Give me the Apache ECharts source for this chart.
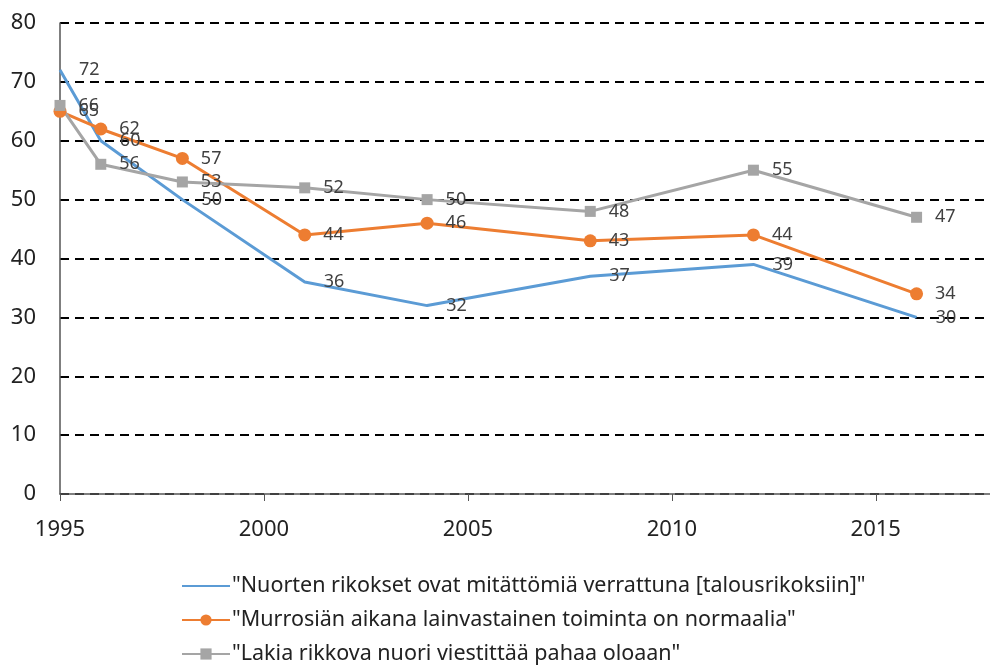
<!DOCTYPE html>
<html>
<head>
<meta charset="utf-8">
<script src="https://cdn.jsdelivr.net/npm/echarts@6/dist/echarts.min.js"></script>
<style>
  html, body { margin: 0; padding: 0; background: #fff; }
  #main { width: 990px; height: 666px; }
</style>
</head>
<body>
<div id="main"></div>
<script>
// survey years
var years = [1995, 1996, 1998, 2001, 2004, 2008, 2012, 2016];

var nuortenRikokset = [72, 60, 50, 36, 32, 37, 39, 30];
var murrosika = [65, 62, 57, 44, 46, 43, 44, 34];
var lakiaRikkova = [66, 56, 53, 52, 50, 48, 55, 47];

var seriesNames = [
  '"Nuorten rikokset ovat mitättömiä verrattuna [talousrikoksiin]"',
  '"Murrosiän aikana lainvastainen toiminta on normaalia"',
  '"Lakia rikkova nuori viestittää pahaa oloaan"'
];

function pairs(vals) {
  return years.map(function (y, i) { return [y, vals[i]]; });
}

var font = 'Noto Sans';
function labelStyle(dist) {
  return {
    show: true,
    position: 'right',
    distance: dist,
    color: '#404040',
    fontSize: 18,
    fontFamily: font
  };
}

var chart = echarts.init(document.getElementById('main'));
chart.setOption({
  animation: false,
  grid: { left: 60, right: 0, top: 23, bottom: 172 },
  legend: {
    orient: 'vertical',
    left: 176,
    top: 570,
    height: 140,
    itemWidth: 48,
    itemHeight: 14,
    itemGap: 12,
    textStyle: { fontSize: 21.5, color: '#222', fontFamily: font, padding: [0, 0, 0, -3] },
    data: [
      { name: seriesNames[0], itemStyle: { opacity: 0 } },
      seriesNames[1],
      seriesNames[2]
    ]
  },
  xAxis: {
    type: 'value',
    min: 1995,
    max: 2017.8,
    interval: 5,
    axisLine: { lineStyle: { color: '#555', width: 1.5 } },
    axisTick: { show: true, length: 7, lineStyle: { color: '#555' } },
    splitLine: { show: false },
    axisLabel: {
      fontSize: 22, color: '#222', fontFamily: font, margin: 25,
      showMaxLabel: false,
      formatter: function (v) { return v % 5 === 0 ? String(v) : ''; }
    }
  },
  yAxis: {
    type: 'value',
    min: 0,
    max: 80,
    interval: 10,
    axisLine: { show: true, lineStyle: { color: '#555', width: 1.5 } },
    axisTick: { show: false },
    splitLine: { lineStyle: { color: '#000', type: [9, 6], width: 2 } },
    axisLabel: { fontSize: 22, color: '#222', fontFamily: font, margin: 24 }
  },
  series: [
    {
      name: seriesNames[0],
      type: 'line',
      data: pairs(nuortenRikokset),
      symbol: 'circle',
      symbolSize: 0.1,
      lineStyle: { color: '#5B9BD5', width: 3 },
      itemStyle: { color: '#5B9BD5' },
      label: labelStyle(19)
    },
    {
      name: seriesNames[1],
      type: 'line',
      data: pairs(murrosika),
      symbol: 'circle',
      symbolSize: 13,
      lineStyle: { color: '#ED7D31', width: 3 },
      itemStyle: { color: '#ED7D31' },
      label: labelStyle(12)
    },
    {
      name: seriesNames[2],
      type: 'line',
      data: pairs(lakiaRikkova),
      symbol: 'rect',
      symbolSize: 11,
      lineStyle: { color: '#A5A5A5', width: 3 },
      itemStyle: { color: '#A5A5A5' },
      label: labelStyle(13)
    }
  ]
});
</script>
</body>
</html>
